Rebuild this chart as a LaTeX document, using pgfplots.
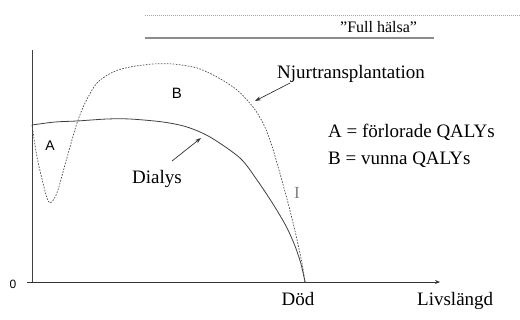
\documentclass[border=0pt]{standalone}
\usepackage{pgfplots}
\pgfplotsset{compat=1.18}
\usepackage{fontspec}
\setmainfont{Liberation Serif}
\newfontfamily\sansf{Liberation Sans}
\usetikzlibrary{arrows.meta}
\begin{document}
\begin{tikzpicture}
\begin{axis}[scale only axis, width=520pt, height=319pt,
  xmin=0, xmax=520, ymin=0, ymax=319, y dir=reverse,
  hide axis, clip=false]
% reference lines
\draw[black!35, line width=0.6pt, dash pattern=on 1pt off 1pt] (axis cs:145,15) -- (axis cs:520,15);
\draw[black!45, line width=1.6pt] (axis cs:145,38) -- (axis cs:434,38);
% axes
\draw[black!75, line width=0.8pt] (axis cs:32,50) -- (axis cs:32,282);
\draw[black!80, line width=0.8pt, -{Stealth[length=5pt,width=4pt]}] (axis cs:27,282) -- (axis cs:440,282);
% Dialys
\addplot[black!75, line width=0.8pt, smooth, tension=0.5] coordinates {
(32,125) (55,122) (77,121) (107,119) (130,119) (163,122) (187,127) (210,137)
(240,158) (257,180) (273,204) (286,226) (295,246) (301,264) (305,282)};
% Njurtransplantation
\addplot[black!70, line width=0.7pt, dash pattern=on 1.6pt off 1.4pt, smooth, tension=0.5] coordinates {
(32,125) (37,157) (43,183) (47,198) (50,203) (54,199) (58,190) (63,172) (70,147)
(77,123) (85,103) (97,83) (113,72) (130,67) (153,64) (173,64) (197,68) (217,77)
(237,90) (253,107) (263,123) (270,140) (277,163) (287,199) (295,231) (302,263) (305,282)};
% arrows
\draw[black!80, line width=0.7pt, -{Stealth[length=6pt,width=4pt]}] (axis cs:290,83) -- (axis cs:255,101);
\draw[black!80, line width=0.7pt, -{Stealth[length=6pt,width=4pt]}] (axis cs:172,161) -- (axis cs:201,138);
% texts
\node[anchor=base west, inner sep=0pt, font=\fontsize{16}{19}\selectfont] at (axis cs:340,32) {”Full hälsa”};
\node[anchor=base west, inner sep=0pt, font=\fontsize{19}{22}\selectfont] at (axis cs:277,78) {Njurtransplantation};
\node[anchor=base west, inner sep=0pt, font=\fontsize{19}{22}\selectfont] at (axis cs:132,183) {Dialys};
\node[anchor=base west, inner sep=0pt, font=\fontsize{19}{22}\selectfont] at (axis cs:328,137) {A = förlorade QALYs};
\node[anchor=base west, inner sep=0pt, font=\fontsize{19}{22}\selectfont] at (axis cs:328,164) {B = vunna QALYs};
\node[anchor=base, inner sep=0pt, font=\fontsize{19}{22}\selectfont] at (axis cs:298,305) {Död};
\node[anchor=base west, inner sep=0pt, font=\fontsize{19}{22}\selectfont] at (axis cs:417,305) {Livslängd};
\node[inner sep=0pt, text=black!50, font=\fontsize{17}{20}\selectfont] at (axis cs:297,193) {I};
\node[inner sep=0pt, font=\sansf\fontsize{15}{18}\selectfont] at (axis cs:177,93) {B};
\node[inner sep=0pt, font=\sansf\fontsize{14}{17}\selectfont] at (axis cs:50,146) {A};
\node[inner sep=0pt, font=\sansf\fontsize{12}{14}\selectfont] at (axis cs:13,284) {0};
\end{axis}
\pgfresetboundingbox
\useasboundingbox (0,0) rectangle (520pt,319pt);
\end{tikzpicture}
\end{document}
